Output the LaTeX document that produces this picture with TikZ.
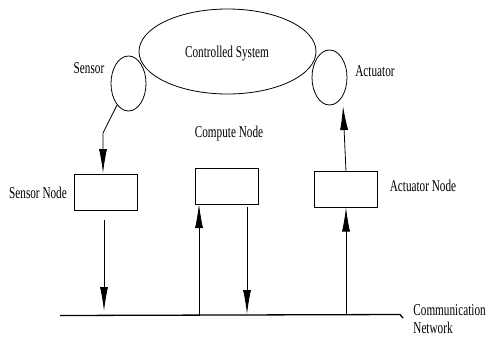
\documentclass[tikz,border=0pt]{standalone}
\usepackage{fontspec}
\setmainfont[FakeStretch=0.68]{Liberation Serif}
\usetikzlibrary{arrows.meta, shapes.geometric}
\tikzset{
  every picture/.style={line width=0.8pt, font=\fontsize{16.5}{18}\selectfont},
  box/.style={draw, rectangle, minimum width=63pt, minimum height=36pt, inner sep=0pt},
  blob/.style={draw, ellipse, inner sep=0pt, minimum width=35pt, minimum height=55pt},
  arrow/.style={-{Latex[length=24pt, width=8pt]}},
  lbl/.style={inner sep=0pt},
}
\begin{document}
\begin{tikzpicture}[x=1pt, y=-1pt]
  \useasboundingbox (0,0) rectangle (486,338);
  % plant and its sensor / actuator
  \node[draw, ellipse, inner sep=0pt, minimum width=177pt, minimum height=85pt] (plant) at (227.5,51.5) {};
  \node[lbl] (plantlbl) at (227,54) {Controlled System};
  \node[blob] (sensor) at (128.5,83.5) {};
  \node[blob] (actuator) at (329.5,77.5) {};
  \node[lbl] (sensorlbl) at (89,68) {Sensor};
  \node[lbl] (actuatorlbl) at (375,71) {Actuator};
  % nodes on the network
  \node[box] (snode) at (106,192) {};
  \node[box] (cnode) at (226.5,186) {};
  \node[box] (anode) at (345.5,189.5) {};
  \node[lbl] (snodelbl) at (38,193) {Sensor Node};
  \node[lbl] (cnodelbl) at (229,134) {Compute Node};
  \node[lbl] (anodelbl) at (423,186) {Actuator Node};
  % network bus
  \coordinate (netL) at (60,315.5);
  \coordinate (netR) at (400,314.5);
  \coordinate (netE) at (403,318);
  \draw[line width=1.3pt] (netL) -- (netR) -- (netE);
  \node[lbl, anchor=base west, align=left] (netlbl) at (413,333) {Communication\\Network};
  % data flow
  \coordinate (sbend) at (103,133);
  \coordinate (stip) at (103,173);
  \coordinate (atip) at (343,106);
  \draw[arrow] (sensor.242) -- (sbend) -- (stip);
  \draw[arrow] (snode.south -| sbend) ++(1,10) -- (104,311);
  \draw[arrow] (199,315.5) -- (199,204);
  \draw[arrow] (247,207) -- (247,314);
  \draw[arrow] (346,314.5) -- (346,207.5);
  \draw[arrow] (346,171.5) -- (atip);
\end{tikzpicture}
\end{document}
